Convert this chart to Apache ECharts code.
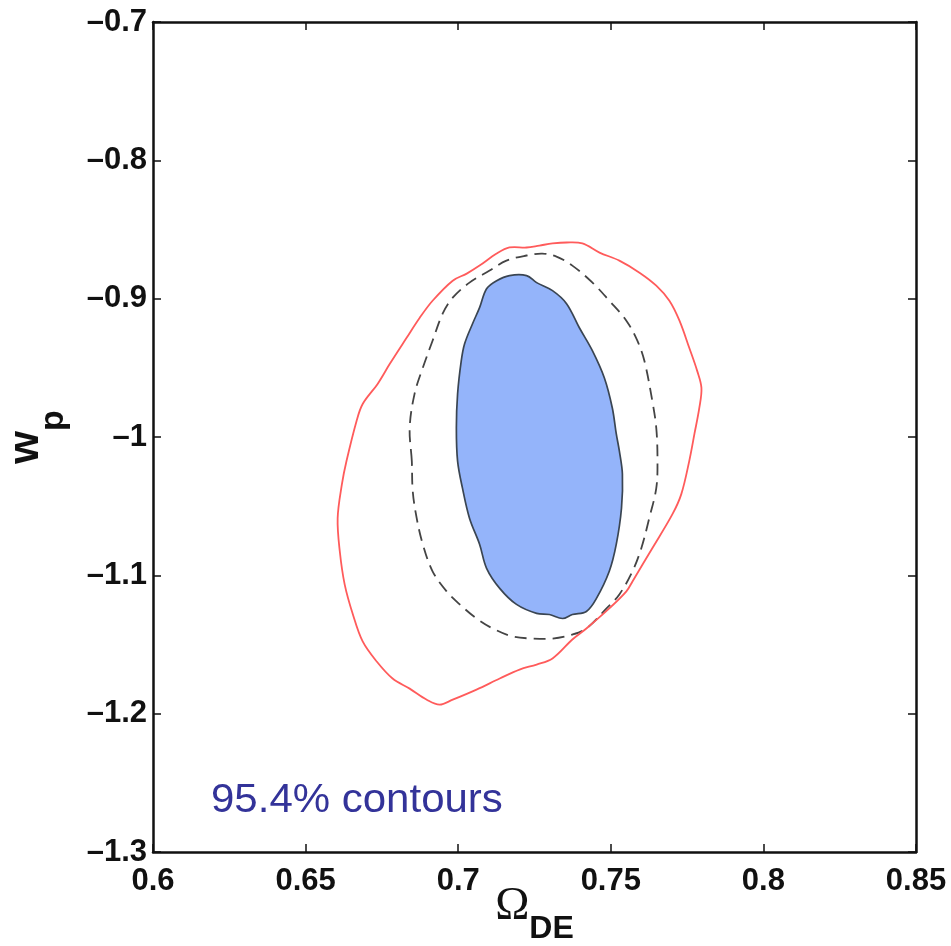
<!DOCTYPE html>
<html>
<head>
<meta charset="utf-8">
<script src="https://cdn.jsdelivr.net/npm/echarts@6/dist/echarts.min.js"></script>
<style>
  html, body { margin: 0; padding: 0; background: #fff; }
  #chart { width: 951px; height: 946px; }
</style>
</head>
<body>
<div id="chart"></div>
<script>
// Axis ticks
const xTicks = [0.6, 0.65, 0.7, 0.75, 0.8, 0.85];
const yTicks = [-1.3, -1.2, -1.1, -1.0, -0.9, -0.8, -0.7];
const xTickLabels = ['0.6', '0.65', '0.7', '0.75', '0.8', '0.85'];
const yTickLabels = ['\u20131.3', '\u20131.2', '\u20131.1', '\u20131', '\u20130.9', '\u20130.8', '\u20130.7'];

// Outer 95.4% contour (red)
const redContour = [
  [0.6634, -1.0174], [0.6667, -0.9884], [0.6687, -0.9761], [0.6736, -0.9616],
  [0.6776, -0.9471], [0.6831, -0.9283], [0.6874, -0.9138], [0.6916, -0.9015],
  [0.6982, -0.8870], [0.7028, -0.8819], [0.7070, -0.8761], [0.7126, -0.8674],
  [0.7168, -0.8630], [0.7224, -0.8630], [0.7266, -0.8616], [0.7309, -0.8601],
  [0.7355, -0.8594], [0.7407, -0.8601], [0.7463, -0.8667], [0.7528, -0.8725],
  [0.7594, -0.8812], [0.7649, -0.8906], [0.7692, -0.9015], [0.7725, -0.9159],
  [0.7757, -0.9355], [0.7783, -0.9522], [0.7797, -0.9645], [0.7790, -0.9790],
  [0.7774, -0.9978], [0.7757, -1.0174], [0.7731, -1.0413], [0.7702, -1.0558],
  [0.7636, -1.0804], [0.7571, -1.1044], [0.7551, -1.1116], [0.7495, -1.1239],
  [0.7420, -1.1384], [0.7374, -1.1464], [0.7309, -1.1601], [0.7257, -1.1645],
  [0.7201, -1.1681], [0.7136, -1.1746], [0.7060, -1.1826], [0.6982, -1.1899],
  [0.6939, -1.1935], [0.6897, -1.1899], [0.6841, -1.1819], [0.6785, -1.1746],
  [0.6733, -1.1623], [0.6687, -1.1478], [0.6655, -1.1283], [0.6628, -1.1065],
  [0.6612, -1.0826], [0.6605, -1.0587], [0.6619, -1.0341]
];

// Dashed 95.4% contour (grey)
const dashedContour = [
  [0.6848, -1.0174], [0.6841, -0.9935], [0.6857, -0.9688], [0.6884, -0.9500],
  [0.6916, -0.9304], [0.6949, -0.9109], [0.6982, -0.8993], [0.7037, -0.8884],
  [0.7103, -0.8797], [0.7158, -0.8725], [0.7224, -0.8688], [0.7276, -0.8674],
  [0.7322, -0.8696], [0.7374, -0.8761], [0.7440, -0.8884], [0.7495, -0.9015],
  [0.7551, -0.9159], [0.7587, -0.9304], [0.7610, -0.9449], [0.7636, -0.9739],
  [0.7649, -0.9935], [0.7653, -1.0174], [0.7649, -1.0370], [0.7626, -1.0587],
  [0.7600, -1.0804], [0.7571, -1.0971], [0.7528, -1.1138], [0.7486, -1.1239],
  [0.7420, -1.1384], [0.7374, -1.1428], [0.7309, -1.1457], [0.7244, -1.1457],
  [0.7178, -1.1442], [0.7113, -1.1384], [0.7060, -1.1312], [0.7005, -1.1210],
  [0.6962, -1.1116], [0.6916, -1.0971], [0.6884, -1.0775], [0.6864, -1.0587],
  [0.6851, -1.0391]
];

// Filled 95.4% contour (blue)
const blueContour = [
  [0.6998, -1.0174], [0.6994, -0.9935], [0.6998, -0.9688], [0.7010, -0.9449],
  [0.7021, -0.9326], [0.7047, -0.9181], [0.7070, -0.9065], [0.7093, -0.8928],
  [0.7126, -0.8870], [0.7168, -0.8833], [0.7224, -0.8833], [0.7257, -0.8884],
  [0.7309, -0.8942], [0.7355, -0.9036], [0.7397, -0.9210], [0.7440, -0.9377],
  [0.7479, -0.9573], [0.7505, -0.9790], [0.7518, -0.9978], [0.7528, -1.0101],
  [0.7538, -1.0268], [0.7535, -1.0515], [0.7518, -1.0775], [0.7495, -1.0971],
  [0.7453, -1.1167], [0.7420, -1.1261], [0.7374, -1.1283], [0.7342, -1.1312],
  [0.7299, -1.1283], [0.7257, -1.1275], [0.7191, -1.1210], [0.7136, -1.1094],
  [0.7093, -1.0949], [0.7070, -1.0775], [0.7037, -1.0587], [0.7014, -1.0370]
];

const AXIS_COLOR = '#111';
const tickFont = { fontFamily: 'Liberation Sans', fontWeight: 'bold', fontSize: 31, color: '#111' };

function labelFor(list, labels, v) {
  let best = 0;
  for (let i = 1; i < list.length; i++) {
    if (Math.abs(list[i] - v) < Math.abs(list[best] - v)) best = i;
  }
  return labels[best];
}

function contourSeries(points, style) {
  return {
    type: 'custom',
    coordinateSystem: 'cartesian2d',
    data: points,
    encode: { x: 0, y: 1 },
    clip: true,
    silent: true,
    renderItem: function (params, api) {
      if (params.dataIndex !== 0) return null;
      const pts = points.map(function (p) { return api.coord(p); });
      return {
        type: 'polygon',
        shape: { points: pts, smooth: 0.35 },
        style: style
      };
    }
  };
}

const chart = echarts.init(document.getElementById('chart'), null, { renderer: 'canvas' });

chart.setOption({
  animation: false,
  backgroundColor: '#ffffff',
  grid: { left: 153, right: 35, top: 22, bottom: 94, containLabel: false, outerBoundsMode: 'none' },
  xAxis: [
    {
      type: 'value',
      position: 'bottom',
      min: xTicks[0], max: xTicks[xTicks.length - 1], interval: 0.05,
      axisLine: { show: true, onZero: false, lineStyle: { color: AXIS_COLOR, width: 2.5 } },
      axisTick: { show: true, inside: true, length: 8, lineStyle: { color: AXIS_COLOR, width: 1.5 } },
      splitLine: { show: false },
      axisLabel: Object.assign({ margin: 14, formatter: function (v) { return labelFor(xTicks, xTickLabels, v); } }, tickFont),
      name: '{o|\u03A9}{s|DE}',
      nameLocation: 'middle',
      nameGap: 32,
      nameMoveOverlap: false,
      nameTextStyle: {
        rich: {
          o: { fontFamily: 'Liberation Serif', fontSize: 46, color: '#111', verticalAlign: 'top', lineHeight: 46 },
          s: { fontFamily: 'Liberation Sans', fontWeight: 'bold', fontSize: 32, color: '#111', verticalAlign: 'bottom', lineHeight: 61 }
        }
      }
    },
    {
      type: 'value',
      position: 'top',
      min: xTicks[0], max: xTicks[xTicks.length - 1], interval: 0.05,
      axisLine: { show: true, onZero: false, lineStyle: { color: AXIS_COLOR, width: 2.5 } },
      axisTick: { show: true, inside: true, length: 8, lineStyle: { color: AXIS_COLOR, width: 1.5 } },
      axisLabel: { show: false },
      splitLine: { show: false }
    }
  ],
  yAxis: [
    {
      type: 'value',
      position: 'left',
      min: yTicks[0], max: yTicks[yTicks.length - 1], interval: 0.1,
      axisLine: { show: true, onZero: false, lineStyle: { color: AXIS_COLOR, width: 2.5 } },
      axisTick: { show: true, inside: true, length: 8, lineStyle: { color: AXIS_COLOR, width: 1.5 } },
      splitLine: { show: false },
      axisLabel: Object.assign({ margin: 6, formatter: function (v) { return labelFor(yTicks, yTickLabels, v); } }, tickFont),
      name: '{w|w}{p|p}',
      nameLocation: 'middle',
      nameRotate: 90,
      nameGap: 82,
      nameMoveOverlap: false,
      nameTextStyle: {
        rich: {
          w: { fontFamily: 'Liberation Sans', fontWeight: 'bold', fontSize: 42, color: '#111', verticalAlign: 'top', lineHeight: 42 },
          p: { fontFamily: 'Liberation Sans', fontWeight: 'bold', fontSize: 34, color: '#111', verticalAlign: 'bottom', lineHeight: 66 }
        }
      }
    },
    {
      type: 'value',
      position: 'right',
      min: yTicks[0], max: yTicks[yTicks.length - 1], interval: 0.1,
      axisLine: { show: true, onZero: false, lineStyle: { color: AXIS_COLOR, width: 2.5 } },
      axisTick: { show: true, inside: true, length: 8, lineStyle: { color: AXIS_COLOR, width: 1.5 } },
      axisLabel: { show: false },
      splitLine: { show: false }
    }
  ],
  graphic: [
    {
      type: 'text',
      x: 211,
      y: 801,
      scaleX: 1.05,
      silent: true,
      style: {
        text: '95.4% contours',
        fontFamily: 'Liberation Sans',
        fontSize: 40,
        fill: '#333399',
        verticalAlign: 'middle',
        align: 'left'
      }
    }
  ],
  series: [
    contourSeries(blueContour, { fill: '#94b4fa', stroke: '#3a4552', lineWidth: 1.7 }),
    contourSeries(dashedContour, { fill: 'none', stroke: '#444', lineWidth: 1.8, lineDash: [12, 7] }),
    contourSeries(redContour, { fill: 'none', stroke: '#ff5b5b', lineWidth: 1.8 })
  ]
});
</script>
</body>
</html>
